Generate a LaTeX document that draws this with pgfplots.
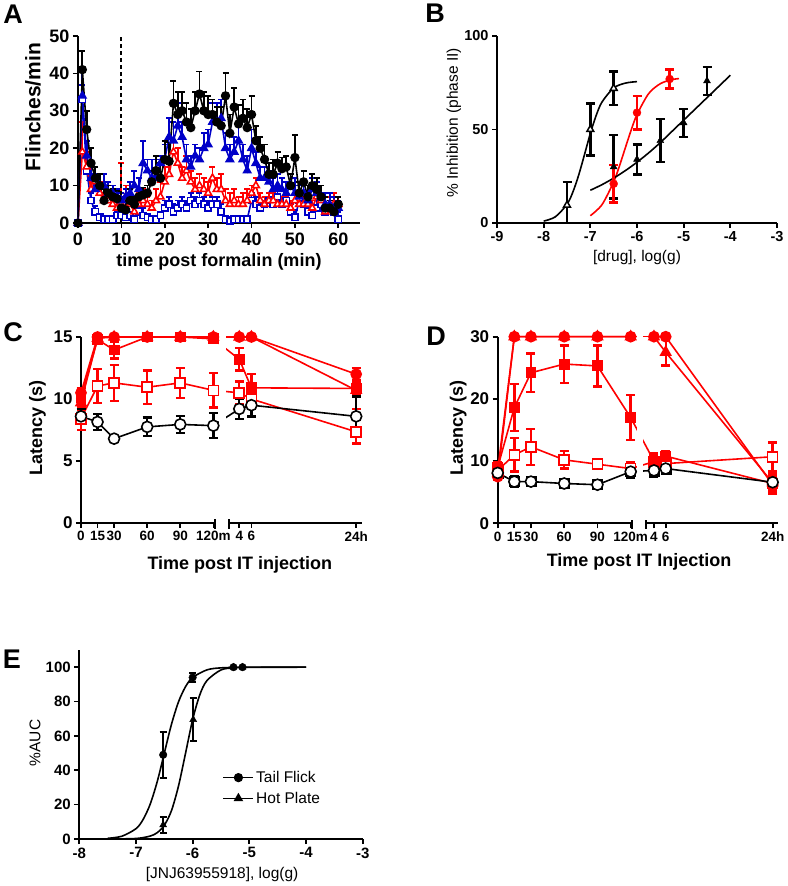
\documentclass[border=0pt]{standalone}
\usepackage{pgfplots}
\pgfplotsset{compat=1.18}
\usepackage{pgfplotstable}
\usepackage{fontspec}
\setmainfont{Liberation Sans}
\definecolor{gpblue}{RGB}{0,0,200}
\definecolor{gpred}{RGB}{255,0,0}
\newcommand{\fs}[1]{\fontsize{#1}{#1}\selectfont}

\pgfplotsset{
 gp/.style={scale only axis, axis lines=left, axis line style={-, line width=1.7pt},
   tick align=outside, major tick length=5pt, tick style={line width=1.7pt, black},
   clip=false, anchor=south west, /pgf/number format/assume math mode=true,
   xlabel style={anchor=center}, ylabel style={anchor=center}},
 errA/.style={error bars/.cd, y dir=plus, y explicit, error bar style={line width=1.8pt},
   error mark options={rotate=90, line width=1.8pt, mark size=3pt}, /pgfplots/.cd},
 errB/.style={error bars/.cd, y dir=both, y explicit, error bar style={line width=2.4pt},
   error mark options={rotate=90, line width=2.4pt, mark size=4.5pt}, /pgfplots/.cd},
 errE/.style={error bars/.cd, y dir=both, y explicit, error bar style={line width=2pt},
   error mark options={rotate=90, line width=2pt, mark size=3.5pt}, /pgfplots/.cd},
 ln/.style={line width=1.6pt, mark options={solid, line width=1.7pt}},
}

\pgfplotstableread{
t bk bke bt bte bs bse rt rte
0 0 0 0 0 0 0 0 0
1 41 5 34 3 33 8 19 8
2 25 5 18 4 14 4 15 4
3 16 4 12 3 6 2 9 3
4 12 3 9 4 3 1.5 11 2
5 10 3 10 3 1.5 1 8 3
6 6 3 10 3 1 1 6 2
7 8 2 8 3 1 1 6 2
8 7 2 8 2 1 1 5 2
9 6.5 2 7 2 2 1 4 2
10 4 3 6 2 2 1 5 11
11 3.5 3 7 2 1.5 1 7 3
12 6 3 8 3 2 1 5 3
13 5 2 10 4 1 1 3 2
14 7 2 9 3 3 2 5 3
15 7.5 2 16 6 2 2 6 3
16 8 2 14 3 1.5 1 5 2
17 11 3 12 5 1 1 4 2
18 14 4 12 5 1 1 6 3
19 12 4 16 2 2 1 7 4
20 17 5 17 4 4 2 11 4
21 16.5 5 23 5 5 2 13 4
22 32 6 22 5 3 2 19 3
23 29 6 26 6 4 2 16 4
24 30 5 23 4 5 2 12 3
25 27 5 17 4 4 2 14 4
26 25.5 5 15 3 6 2 11 3
27 30 5 18 3 5 2 9 3
28 34.5 6 17 3 6 2 10 3
29 30 5 20 4 5 2 9 3
30 29 5 21 4 4 2 8 3
31 29 4 27 5 5 2 12 3
32 27 4 27 5 5 2 9 3
33 26 5 28 5 3 2 9 4
34 34 6 20 4 1 1 6 3
35 24 5 17 4 0.5 1 5 3
36 31 5 19 4 1 1 6 3
37 26.5 5 22 4 1 1 5 2
38 28 5 17 4 1 1 5 3
39 25.5 5 14 4 1 1 6 3
40 29 5 20 5 6 2 8 2
41 22 4 16 3 5 2 10 2
42 20 3 12 3 4 2 6 2
43 17 4 12 3 5 2 5 2
44 13 3 11 3 6 2 6 2
45 13 4 9 3 5 2 6 2
46 16 3 10 3 7 2 5 2
47 14.5 3 9 3 5 2 5 2
48 15 3 8 3 6 2 5 2
49 10 3 10 3 3 2 4 2
50 17.5 6 8 4 1.5 2 6 2
51 8 3 7 3 6 2 5 2
52 11 3 8 3 5 2 5 2
53 7 3 6 4 3 2 5 2
54 10 3 9 3 2 2 4 2
55 9 3 8 3 4 2 7 2
56 7 3 7 3 5 2 6 2
57 4 3 5 3 3 2 3 2
58 4 2 5 3 4 2 5 2
59 3 2 4 3 3 2 5 3
60 5 2 4 2 1 2 5 2
}\tabA

% Panel C tables (x = position on broken axis: minutes, then 4h=143.5, 6h=154.5, 24h=249.5)
\pgfplotstableread{
x y e
0 8.6 0.6
15 8.15 0.65
30 6.8 0.15
60 7.75 0.75
90 7.95 0.7
120 7.85 1.0
143.5 9.2 0.8
154.5 9.5 0.9
249.5 8.6 1.6
}\cBk
\pgfplotstableread{
x y e
0 8.4 0.9
15 11.05 1.35
30 11.3 1.45
60 10.95 1.35
90 11.3 1.2
120 10.7 1.4
143.5 10.5 0.9
154.5 10.0 0.8
249.5 7.35 0.95
}\cOs
\pgfplotstableread{
x y e
0 10.1 0.5
15 14.8 0.3
30 13.95 0.7
60 15 0.1
90 15 0.1
120 14.85 0.2
143.5 13.2 0.9
154.5 10.9 1.1
249.5 10.85 0.45
}\cFs
\pgfplotstableread{
x y e
0 9.7 0.6
15 14.9 0.2
30 15 0
60 15 0
90 15 0
120 15 0
143.5 15 0
154.5 15 0
249.5 10.7 1.5
}\cTr
\pgfplotstableread{
x y e
0 10.5 0.4
15 15 0
30 15 0
60 15 0
90 15 0
120 15 0
143.5 15 0
154.5 15 0
249.5 12.0 0.5
}\cCi

% Panel D tables (4h=141, 6h=151.6, 24h=248.1)
\pgfplotstableread{
x y e
0 8.1 0.5
15 6.7 0.8
30 6.7 0.2
60 6.4 0.2
90 6.2 0.2
120 8.3 1.0
141 8.5 0.9
151.6 8.8 0.3
248.1 6.6 0.8
}\dBk
\pgfplotstableread{
x y e
0 8.0 0.5
15 6.7 0.9
30 6.8 0.3
60 6.4 0.3
90 6.3 0.3
120 8.4 1.1
141 8.4 1.0
151.6 8.7 0.4
248.1 6.5 0.9
}\dBs
\pgfplotstableread{
x y e
0 8.5 0.8
15 11.0 2.7
30 12.3 2.9
60 10.2 1.4
90 9.5 0.6
120 8.8 1.0
141 9.9 1.0
151.6 9.6 0.8
248.1 10.7 2.3
}\dOs
\pgfplotstableread{
x y e
0 9.0 0.8
15 18.6 3.8
30 24.2 3.1
60 25.6 3.0
90 25.3 3.3
120 17.0 3.6
141 10.0 1.2
151.6 10.8 0.8
248.1 6.4 1.0
}\dFs
\pgfplotstableread{
x y e
0 8.5 0.7
15 30 0
30 30 0
60 30 0
90 30 0
120 30 0
141 30 0
151.6 27.5 2.1
248.1 6.5 1.5
}\dTr
\pgfplotstableread{
x y e
0 7.5 0.5
15 30 0
30 30 0
60 30 0
90 30 0
120 30 0
141 30 0
151.6 30 0
248.1 6.2 1.5
}\dCi

\begin{document}
\begin{tikzpicture}
\useasboundingbox (0pt,0pt) rectangle (787pt,886pt);

% ---------------- Panel A ----------------
\begin{axis}[gp, at={(78pt,663pt)}, width=282pt, height=187pt,
  xmin=0, xmax=65, ymin=0, ymax=50,
  xtick={0,10,...,60}, ytick={0,10,...,50},
  tick label style={font=\bfseries\fs{18}},
  xticklabel style={yshift=-1pt},
  xlabel={time post formalin (min)}, ylabel={Flinches/min},
  xlabel style={font=\bfseries\fs{18}, at={(axis description cs:0.5,-0.207)}},
  ylabel style={font=\bfseries\fs{21}, at={(axis description cs:-0.16,0.62)}}]
\addplot[ln, gpblue, mark=square*, mark size=3.1pt, mark options={fill=white}, errA]
  table[x=t, y=bs, y error=bse] {\tabA};
\addplot[ln, gpred, mark=triangle*, mark size=4pt, mark options={fill=white}, errA]
  table[x=t, y=rt, y error=rte] {\tabA};
\addplot[ln, gpblue, mark=triangle*, mark size=4pt, errA]
  table[x=t, y=bt, y error=bte] {\tabA};
\addplot[ln, black, mark=*, mark size=3.8pt, errA]
  table[x=t, y=bk, y error=bke] {\tabA};
\draw[dash pattern=on 4pt off 3pt, line width=1.8pt] (axis cs:10,0) -- (axis cs:10,50);
\end{axis}
\node[font=\bfseries\fs{27}] at (13pt,872pt) {A};

% ---------------- Panel B ----------------
\begin{axis}[gp, at={(497pt,663pt)}, width=280pt, height=187pt,
  xmin=-9, xmax=-3, ymin=0, ymax=100,
  xtick={-9,-8,-7,-6,-5,-4,-3}, xticklabels={-9,-8,-7,-6,-5,-4,-3},
  ytick={0,50,100},
  tick label style={font=\bfseries\fs{14.5}},
  xlabel={[drug], log(g)}, ylabel={\% Inhibition (phase II)},
  label style={font=\fs{15.5}},
  xlabel style={at={(axis description cs:0.5,-0.182)}},
  ylabel style={at={(axis description cs:-0.154,0.535)}}]
\addplot[black, line width=1.6pt, smooth] coordinates {
 (-8,1.0) (-7.75,3.3) (-7.5,10.0) (-7.375,16.5) (-7.25,25.6) (-7.125,36.6) (-7,47.9)
 (-6.875,57.5) (-6.75,64.7) (-6.5,72.2) (-6.25,74.8) (-6,75.6)};
\addplot[gpred, line width=1.6pt, smooth] coordinates {
 (-7,3.9) (-6.75,9.8) (-6.5,22.0) (-6.375,30.6) (-6.25,40.2) (-6.125,49.7) (-6,58.0)
 (-5.75,69.2) (-5.5,74.5) (-5.25,76.7) (-5.1,77.2)};
\addplot[black, line width=1.6pt, smooth] coordinates {
 (-7,17.5) (-6.75,20.5) (-6.5,24) (-6.25,28) (-6,32.5) (-5.75,37.5) (-5.5,43)
 (-5.25,49) (-5,55) (-4.75,61) (-4.5,67) (-4.25,73) (-4,79)};
\addplot[only marks, black, mark=triangle*, mark size=4pt, errB] coordinates {
 (-6.5,30) +- (0,17) (-6,34) +- (0,8) (-5.5,44) +- (0,11.5) (-5,53.5) +- (0,7.5) (-4.5,76) +- (0,7.5)};
\addplot[only marks, black, mark=triangle*, mark size=4pt, mark options={fill=white, line width=1.5pt}, errB] coordinates {
 (-7.5,9.5) += (0,12.5) -= (0,9.5) (-7,50) +- (0,14) (-6.5,72) +- (0,9)};
\addplot[only marks, gpred, mark=*, mark size=4pt, errB] coordinates {
 (-6.5,21) +- (0,10) (-6,59) +- (0,9) (-5.3,77) +- (0,5)};
\end{axis}
\node[font=\bfseries\fs{27}] at (435pt,873pt) {B};

% ---------------- Panel C ----------------
\begin{axis}[gp, at={(81pt,363pt)}, width=280.7pt, height=186pt,
  xmin=0, xmax=254.5, ymin=0, ymax=15,
  x axis line style={draw=none},
  xtick={0,15,30,60,90,120,143.5,154.5,249.5},
  xticklabels={0,15,30,60,90,120m,4,6,24h},
  ytick={0,5,10,15},
  xticklabel style={font=\bfseries\fs{13.5}},
  yticklabel style={font=\bfseries\fs{17}},
  xlabel={Time post IT injection}, ylabel={Latency (s)},
  label style={font=\bfseries\fs{18}},
  xlabel style={at={(axis description cs:0.566,-0.226)}},
  ylabel style={at={(axis description cs:-0.155,0.51)}}]
% segments across the break
\addplot[gpred, line width=1.6pt, restrict x to domain=119:145] table[x=x,y=y] {\cOs};
\addplot[gpred, line width=1.6pt, restrict x to domain=119:145] table[x=x,y=y] {\cFs};
\addplot[gpred, line width=1.6pt, restrict x to domain=119:145] table[x=x,y=y] {\cTr};
\addplot[gpred, line width=1.6pt, restrict x to domain=119:145] table[x=x,y=y] {\cCi};
\addplot[black, line width=1.6pt, restrict x to domain=119:145] table[x=x,y=y] {\cBk};
\fill[white] (axis cs:125.5,0.35) rectangle (axis cs:131.5,16);
\draw[line width=1.7pt] (axis cs:0,0) -- (axis cs:121.5,0);
\draw[line width=1.7pt] (axis cs:134.5,0) -- (axis cs:254.5,0);
\draw[line width=1.7pt] (axis cs:121.5,-0.45) -- (axis cs:121.5,0.3);
\draw[line width=1.7pt] (axis cs:134.5,-0.45) -- (axis cs:134.5,0.3);
% series
\addplot[ln, gpred, mark=square*, mark size=5pt, mark options={fill=white}, restrict x to domain=0:125, errB] table[x=x,y=y,y error=e] {\cOs};
\addplot[ln, gpred, mark=square*, mark size=5pt, mark options={fill=white}, restrict x to domain=130:260, errB] table[x=x,y=y,y error=e] {\cOs};
\addplot[ln, gpred, mark=square*, mark size=4.6pt, restrict x to domain=0:125, errB] table[x=x,y=y,y error=e] {\cFs};
\addplot[ln, gpred, mark=square*, mark size=4.6pt, restrict x to domain=130:260, errB] table[x=x,y=y,y error=e] {\cFs};
\addplot[ln, gpred, mark=triangle*, mark size=5.5pt, restrict x to domain=0:125, errB] table[x=x,y=y,y error=e] {\cTr};
\addplot[ln, gpred, mark=triangle*, mark size=5.5pt, restrict x to domain=130:260, errB] table[x=x,y=y,y error=e] {\cTr};
\addplot[ln, gpred, mark=*, mark size=5pt, restrict x to domain=0:125, errB] table[x=x,y=y,y error=e] {\cCi};
\addplot[ln, gpred, mark=*, mark size=5pt, restrict x to domain=130:260, errB] table[x=x,y=y,y error=e] {\cCi};
\addplot[ln, black, mark=*, mark size=5.5pt, mark options={fill=white}, restrict x to domain=0:125, errB] table[x=x,y=y,y error=e] {\cBk};
\addplot[ln, black, mark=*, mark size=5.5pt, mark options={fill=white}, restrict x to domain=130:260, errB] table[x=x,y=y,y error=e] {\cBk};
\end{axis}
\node[font=\bfseries\fs{27}] at (13pt,554pt) {C};

% ---------------- Panel D ----------------
\begin{axis}[gp, at={(497.7pt,362.7pt)}, width=280.6pt, height=186.6pt,
  xmin=0, xmax=253.2, ymin=0, ymax=30,
  x axis line style={draw=none},
  xtick={0,15,30,60,90,120,141,151.6,248.1},
  xticklabels={0,15,30,60,90,120m,4,6,24h},
  ytick={0,10,20,30},
  xticklabel style={font=\bfseries\fs{13.5}},
  yticklabel style={font=\bfseries\fs{17}},
  xlabel={Time post IT Injection}, ylabel={Latency (s)},
  label style={font=\bfseries\fs{18}},
  xlabel style={at={(axis description cs:0.504,-0.205)}},
  ylabel style={at={(axis description cs:-0.141,0.511)}}]
\addplot[gpred, line width=1.6pt, restrict x to domain=119:142] table[x=x,y=y] {\dOs};
\addplot[gpred, line width=1.6pt, restrict x to domain=119:142] table[x=x,y=y] {\dFs};
\addplot[gpred, line width=1.6pt, restrict x to domain=119:142] table[x=x,y=y] {\dTr};
\addplot[gpred, line width=1.6pt, restrict x to domain=119:142] table[x=x,y=y] {\dCi};
\addplot[black, line width=1.6pt, restrict x to domain=119:142] table[x=x,y=y] {\dBk};
\fill[white] (axis cs:125.5,0.6) rectangle (axis cs:131,32);
\draw[line width=1.7pt] (axis cs:0,0) -- (axis cs:121,0);
\draw[line width=1.7pt] (axis cs:133.5,0) -- (axis cs:253.2,0);
\draw[line width=1.7pt] (axis cs:121,-0.9) -- (axis cs:121,0.6);
\draw[line width=1.7pt] (axis cs:133.5,-0.9) -- (axis cs:133.5,0.6);
\addplot[only marks, black, mark=square*, mark size=5pt, restrict x to domain=0:260, errB] table[x=x,y=y,y error=e] {\dBs};
\addplot[ln, gpred, mark=square*, mark size=5pt, mark options={fill=white}, restrict x to domain=0:125, errB] table[x=x,y=y,y error=e] {\dOs};
\addplot[ln, gpred, mark=square*, mark size=5pt, mark options={fill=white}, restrict x to domain=130:260, errB] table[x=x,y=y,y error=e] {\dOs};
\addplot[ln, gpred, mark=square*, mark size=4.6pt, restrict x to domain=0:125, errB] table[x=x,y=y,y error=e] {\dFs};
\addplot[ln, gpred, mark=square*, mark size=4.6pt, restrict x to domain=130:260, errB] table[x=x,y=y,y error=e] {\dFs};
\addplot[ln, gpred, mark=triangle*, mark size=5.5pt, restrict x to domain=0:125, errB] table[x=x,y=y,y error=e] {\dTr};
\addplot[ln, gpred, mark=triangle*, mark size=5.5pt, restrict x to domain=130:260, errB] table[x=x,y=y,y error=e] {\dTr};
\addplot[ln, gpred, mark=*, mark size=5pt, restrict x to domain=0:125, errB] table[x=x,y=y,y error=e] {\dCi};
\addplot[ln, gpred, mark=*, mark size=5pt, restrict x to domain=130:260, errB] table[x=x,y=y,y error=e] {\dCi};
\addplot[ln, black, mark=*, mark size=5.5pt, mark options={fill=white}, restrict x to domain=0:125] table[x=x,y=y] {\dBk};
\addplot[ln, black, mark=*, mark size=5.5pt, mark options={fill=white}, restrict x to domain=130:260] table[x=x,y=y] {\dBk};
\end{axis}
\node[font=\bfseries\fs{27}] at (436pt,550pt) {D};

% ---------------- Panel E ----------------
\begin{axis}[gp, at={(79.3pt,47pt)}, width=283.4pt, height=189pt,
  xmin=-8, xmax=-3, ymin=0, ymax=110,
  xtick={-8,-7,-6,-5,-4,-3}, xticklabels={-8,-7,-6,-5,-4,-3},
  ytick={0,20,...,100},
  tick label style={font=\bfseries\fs{15}},
  xlabel={[JNJ63955918], log(g)}, ylabel={\%AUC},
  label style={font=\fs{15.5}},
  xlabel style={at={(axis description cs:0.504,-0.19)}},
  ylabel style={at={(axis description cs:-0.156,0.508)}},
  legend style={draw=none, fill=none, at={(axis description cs:0.505,0.37)}, anchor=north west,
    font=\fs{15.5}, row sep=4pt, inner sep=0pt},
  legend cell align=left,
  legend image code/.code={\draw[mark repeat=2, mark phase=2, #1] plot coordinates {(0pt,0pt) (15pt,0pt) (30pt,0pt)};}]
\addplot[black, line width=1.6pt, smooth, forget plot] coordinates {
 (-7.5,0.4) (-7.25,1.6) (-7,6.0) (-6.875,11.3) (-6.75,20.2) (-6.625,33.4) (-6.5,50)
 (-6.375,66.6) (-6.25,79.8) (-6.125,88.7) (-6,94.0) (-5.75,98.4) (-5.5,99.6) (-5,100) (-4,100)};
\addplot[black, line width=1.6pt, smooth, forget plot] coordinates {
 (-7.5,0) (-7,0.3) (-6.75,1.7) (-6.625,3.7) (-6.5,8.0) (-6.375,16.4) (-6.25,30.8)
 (-6.125,50) (-6,69.5) (-5.875,83.8) (-5.75,92.1) (-5.5,98.4) (-5.25,99.7) (-5,99.9) (-4,100)};
\addplot[only marks, black, mark=triangle*, mark size=4pt, forget plot, errE] coordinates {
 (-6.52,8.2) +- (0,4.6) (-5.99,69.5) +- (0,12.7) (-5.28,100) +- (0,0) (-5.12,100) +- (0,0)};
\addplot[only marks, black, mark=*, mark size=3.8pt, forget plot, errE] coordinates {
 (-6.52,49) +- (0,13.5) (-6.0,94) +- (0,2.5) (-5.28,100) +- (0,0) (-5.12,100) +- (0,0)};
\addlegendimage{black, line width=1.6pt, mark=*, mark size=3.8pt}
\addlegendentry{Tail Flick}
\addlegendimage{black, line width=1.6pt, mark=triangle*, mark size=4pt}
\addlegendentry{Hot Plate}
\end{axis}
\node[font=\bfseries\fs{27}] at (12pt,227pt) {E};
\end{tikzpicture}
\end{document}
